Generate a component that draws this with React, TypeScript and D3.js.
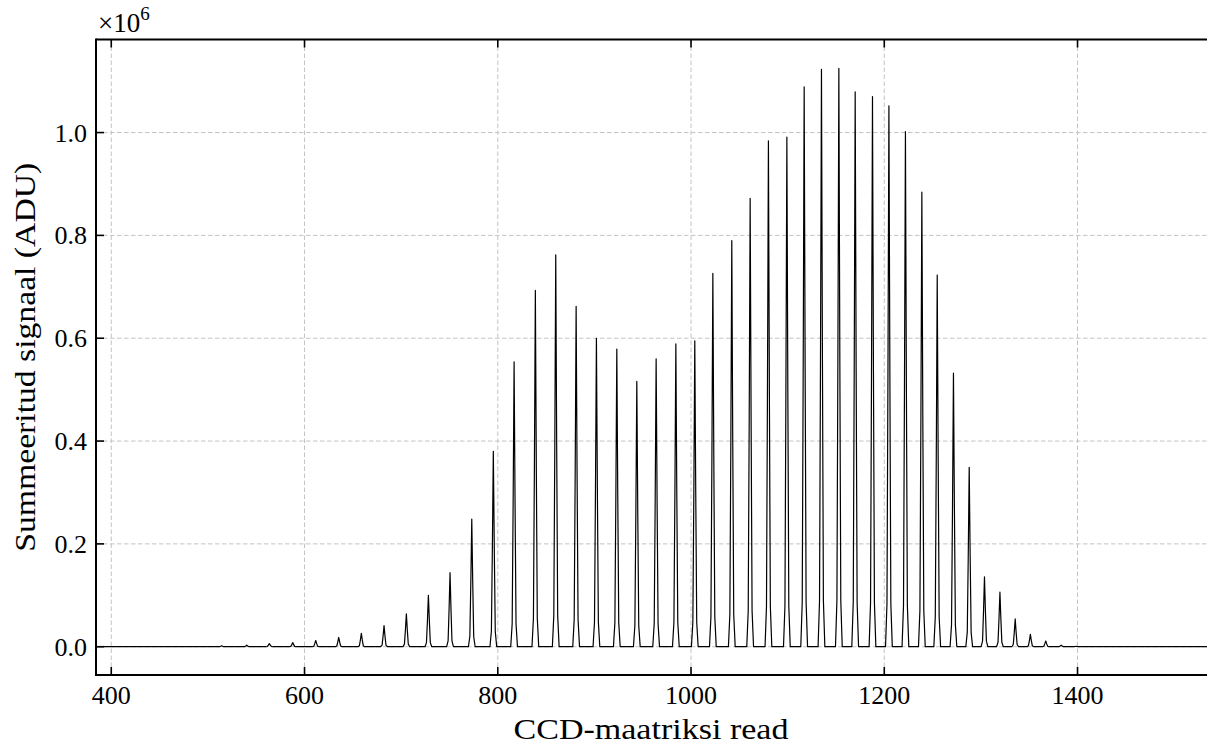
import React from "react";
import * as d3 from "d3";

// Peak centres (CCD row) and summed signal (×10^6 ADU)
const peakRows = [
  514.3, 540.2, 563.6, 587.8, 611.6, 635.4, 658.8, 682.3, 705.4, 728.2,
  750.6, 773.1, 795.4, 816.9, 838.9, 860.0, 881.1, 902.1, 923.2, 943.9,
  963.9, 984.3, 1003.9, 1022.6, 1042.2, 1061.2, 1080.1, 1099.2, 1117.1, 1135.0,
  1153.0, 1169.9, 1187.8, 1204.8, 1221.9, 1238.9, 1254.8, 1271.6, 1287.9, 1303.7,
  1319.7, 1335.5, 1351.2, 1367.1, 1383.1, 1398.6,
];
const peakSignal = [
  0.002, 0.003, 0.006, 0.008, 0.012, 0.018, 0.026, 0.041, 0.064, 0.1,
  0.144, 0.248, 0.38, 0.554, 0.693, 0.762, 0.662, 0.6, 0.579, 0.516,
  0.56, 0.589, 0.595, 0.726, 0.79, 0.872, 0.984, 0.991, 1.089, 1.123,
  1.125, 1.079, 1.07, 1.052, 1.002, 0.884, 0.723, 0.532, 0.349, 0.136,
  0.106, 0.054, 0.024, 0.011, 0.003, 0.001,
];
// Shape of one peak: row offsets and relative height
const profileOffset = [-3.5, -2, -1, 0, 1, 2, 3.5];
const profileRel = [0, 0.08, 0.5, 1, 0.5, 0.08, 0];

const xTicks = [400, 600, 800, 1000, 1200, 1400];
const yTicks = [0, 0.2, 0.4, 0.6, 0.8, 1.0];
const xDomain = [384.2, 1534];
const yDomain = [-0.055, 1.181];

const W = 1207;
const H = 744;
const L = 96;
const R = 1207;
const T = 39.5;
const B = 675;

const FONT = "'Liberation Serif', 'DejaVu Serif', serif";

export default function App() {
  const x = d3.scaleLinear().domain(xDomain).range([L, R]);
  const y = d3.scaleLinear().domain(yDomain).range([B, T]);

  const pts: [number, number][] = [[xDomain[0], 0]];
  peakRows.forEach((c, i) => {
    profileOffset.forEach((o, j) => pts.push([c + o, peakSignal[i] * profileRel[j]]));
  });
  pts.push([xDomain[1], 0]);
  const line = d3
    .line<[number, number]>()
    .x((d) => x(d[0]))
    .y((d) => y(d[1]));

  const fmt = d3.format(".1f");
  const midY = (T + B) / 2;

  return (
    <svg
      width={W}
      height={H}
      style={{ position: "absolute", left: 0, top: 0, background: "#fff" }}
    >
      <defs>
        <clipPath id="plot">
          <rect x={L} y={T} width={R - L} height={B - T} />
        </clipPath>
      </defs>
      <g clipPath="url(#plot)">
        {xTicks.map((t) => (
          <line
            key={"gx" + t}
            x1={x(t)}
            x2={x(t)}
            y1={T}
            y2={B}
            stroke="#c4c4c4"
            strokeWidth={1}
            strokeDasharray="4.5,2.5"
          />
        ))}
        {yTicks.map((t) => (
          <line
            key={"gy" + t}
            x1={L}
            x2={R}
            y1={y(t)}
            y2={y(t)}
            stroke="#c4c4c4"
            strokeWidth={1}
            strokeDasharray="4.5,2.5"
          />
        ))}
        <path d={line(pts) || ""} fill="none" stroke="#000" strokeWidth={1.2} strokeLinejoin="round" />
      </g>
      {/* spines */}
      <line x1={L} x2={R} y1={T} y2={T} stroke="#000" strokeWidth={2} />
      <line x1={L} x2={R} y1={B} y2={B} stroke="#000" strokeWidth={2} />
      <line x1={L} x2={L} y1={T - 1} y2={B + 1} stroke="#000" strokeWidth={2} />
      {/* x ticks */}
      {xTicks.map((t) => (
        <g key={"xt" + t}>
          <line x1={x(t)} x2={x(t)} y1={B} y2={B - 8} stroke="#000" strokeWidth={1.6} />
          <line x1={x(t)} x2={x(t)} y1={T} y2={T + 8} stroke="#000" strokeWidth={1.6} />
          <text
            x={x(t)}
            y={703.5}
            textAnchor="middle"
            fontFamily={FONT}
            fontSize={26}
            fill="#000"
          >
            {t}
          </text>
        </g>
      ))}
      {yTicks.map((t) => (
        <g key={"yt" + t}>
          <line x1={L} x2={L + 8} y1={y(t)} y2={y(t)} stroke="#000" strokeWidth={1.6} />
          <text
            x={87}
            y={y(t) + 9}
            textAnchor="end"
            fontFamily={FONT}
            fontSize={26}
            fill="#000"
          >
            {fmt(t)}
          </text>
        </g>
      ))}
      <text x={98} y={32} fontFamily={FONT} fontSize={27} fill="#000">
        ×10<tspan dy={-12} fontSize={19}>6</tspan>
      </text>
      <text
        x={651}
        y={739}
        textAnchor="middle"
        fontFamily={FONT}
        fontSize={30}
        textLength={275}
        lengthAdjust="spacingAndGlyphs"
        fill="#000"
      >
        CCD-maatriksi read
      </text>
      <text
        transform={`translate(35, ${midY}) rotate(-90)`}
        textAnchor="middle"
        fontFamily={FONT}
        fontSize={30}
        textLength={389}
        lengthAdjust="spacingAndGlyphs"
        fill="#000"
      >
        Summeeritud signaal (ADU)
      </text>
    </svg>
  );
}
